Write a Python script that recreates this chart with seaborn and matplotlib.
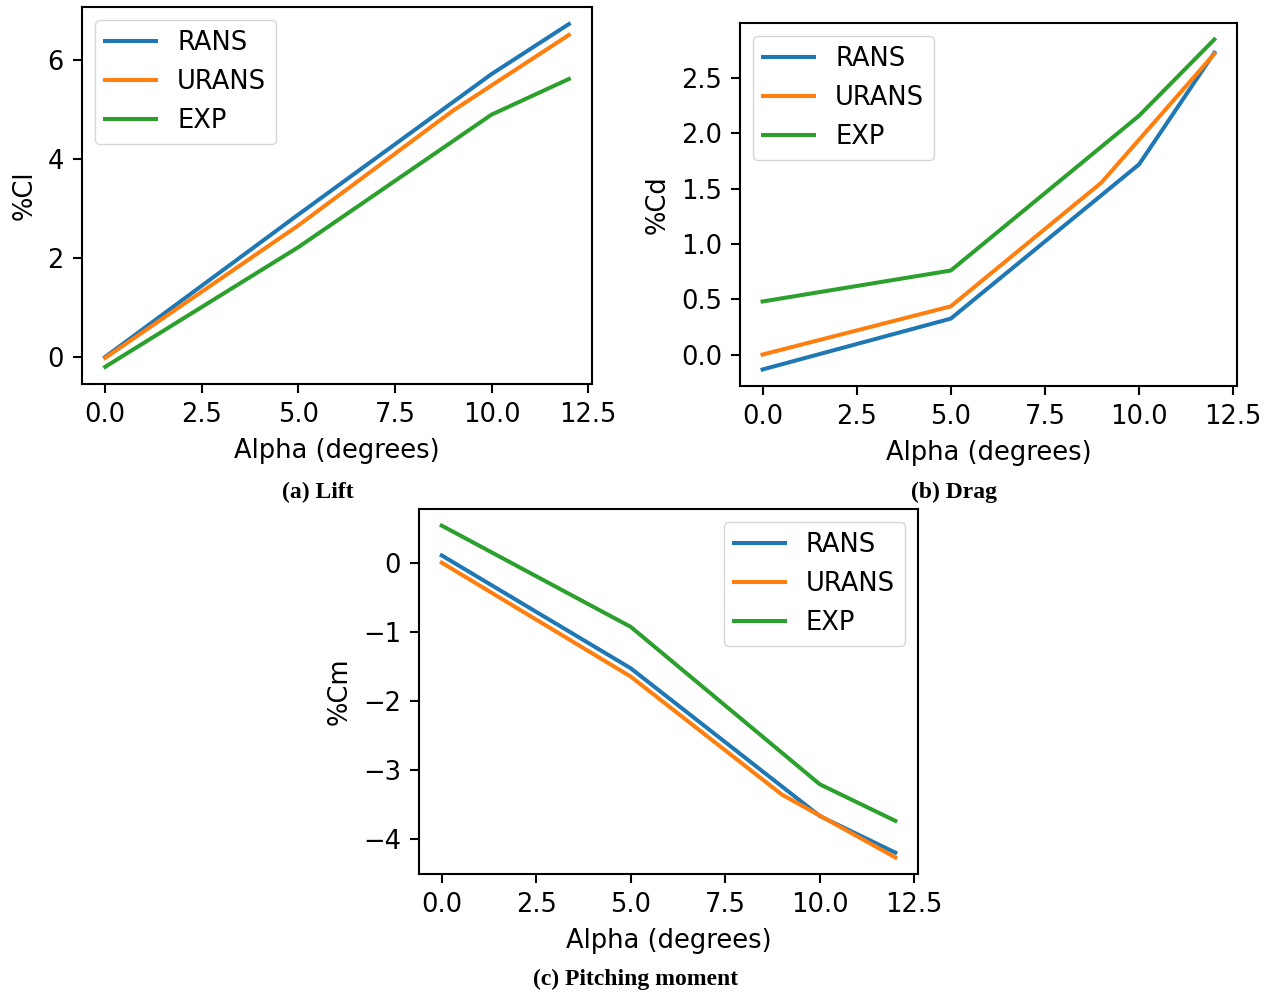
import matplotlib
matplotlib.use("Agg")
import matplotlib.pyplot as plt
import seaborn as sns
import pandas as pd

# Angle-of-attack sweeps for each source
alpha_rans = [0, 5, 10, 12]
alpha_urans = [0, 5, 9, 12]
alpha_exp = [0, 5, 10, 12]

# Lift coefficient (%)
cl_rans = [0.0, 2.88, 5.72, 6.73]
cl_urans = [-0.02, 2.66, 4.98, 6.51]
cl_exp = [-0.20, 2.22, 4.90, 5.62]

# Drag coefficient (%)
cd_rans = [-0.135, 0.325, 1.72, 2.73]
cd_urans = [0.0, 0.436, 1.555, 2.72]
cd_exp = [0.48, 0.76, 2.16, 2.85]

# Pitching-moment coefficient (%)
cm_rans = [0.105, -1.53, -3.67, -4.20]
cm_urans = [0.0, -1.65, -3.36, -4.27]
cm_exp = [0.537, -0.93, -3.21, -3.74]

series_names = ["RANS", "URANS", "EXP"]
colors = ["#1f77b4", "#ff7f0e", "#2ca02c"]

plt.rcParams.update({
    "font.family": ["DejaVu Sans"],
    "font.size": 18.5,
    "axes.linewidth": 1.5,
    "axes.labelpad": 7.4,
    "xtick.major.width": 1.5,
    "ytick.major.width": 1.5,
    "xtick.major.size": 6.5,
    "ytick.major.size": 6.5,
    "xtick.major.pad": 6.5,
    "ytick.major.pad": 6.5,
    "legend.fontsize": 18.5,
})

fig = plt.figure(figsize=(12.71, 9.93), dpi=100)
fig.patch.set_facecolor("white")


def panel(rect, curves, ylabel, legend_loc):
    ax = fig.add_axes(rect)
    frames = []
    for name, (xs, ys) in zip(series_names, curves):
        frames.append(pd.DataFrame({"alpha": xs, "value": ys, "source": name}))
    df = pd.concat(frames, ignore_index=True)
    for name, color in zip(series_names, colors):
        sub = df[df["source"] == name]
        sns.lineplot(data=sub, x="alpha", y="value", ax=ax, color=color,
                     linewidth=2.9, label=name, estimator=None, sort=True)
    ax.set_xlabel("Alpha (degrees)")
    ax.set_ylabel(ylabel)
    ax.set_xticks([0.0, 2.5, 5.0, 7.5, 10.0, 12.5])
    ax.set_xticklabels(["0.0", "2.5", "5.0", "7.5", "10.0", "12.5"])
    ax.set_xlim(-0.6, 12.6)
    ax.legend(loc=legend_loc, frameon=True)
    ax.grid(False)
    for s in ax.spines.values():
        s.set_visible(True)
        s.set_color("black")
    return ax


ax_l = panel([0.0645, 0.6133, 0.4013, 0.3797],
             [(alpha_rans, cl_rans), (alpha_urans, cl_urans), (alpha_exp, cl_exp)],
             "%Cl", "upper left")
ax_l.set_yticks([0, 2, 4, 6])

ax_d = panel([0.5822, 0.6113, 0.3910, 0.3656],
             [(alpha_rans, cd_rans), (alpha_urans, cd_urans), (alpha_exp, cd_exp)],
             "%Cd", "upper left")
ax_d.set_yticks([0.0, 0.5, 1.0, 1.5, 2.0, 2.5])
ax_d.set_yticklabels(["0.0", "0.5", "1.0", "1.5", "2.0", "2.5"])

ax_m = panel([0.3297, 0.1198, 0.3926, 0.3676],
             [(alpha_rans, cm_rans), (alpha_urans, cm_urans), (alpha_exp, cm_exp)],
             "%Cm", "upper right")
ax_m.set_yticks([0, -1, -2, -3, -4])

cap = dict(family="Liberation Serif", fontweight="bold", fontsize=17,
           ha="center", va="center")
fig.text(318 / 1271, 1 - 492 / 993, "(a) Lift", **cap)
fig.text(954 / 1271, 1 - 492 / 993, "(b) Drag", **cap)
fig.text(636 / 1271, 1 - 979 / 993, "(c) Pitching moment", **cap)

fig.savefig("out.png", dpi=100, facecolor="white")
